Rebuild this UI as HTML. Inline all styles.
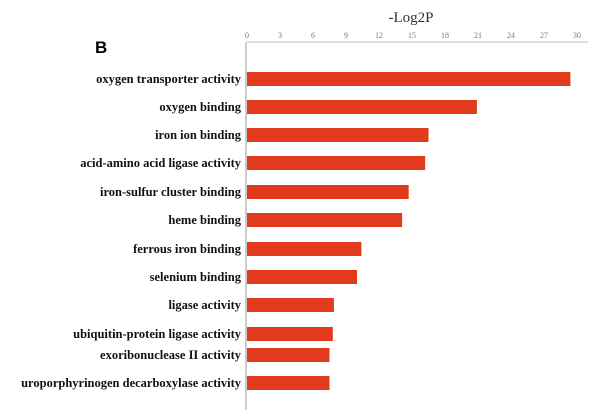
<!DOCTYPE html>
<html><head><meta charset="utf-8"><style>
body{margin:0;background:#fff;width:607px;height:420px;overflow:hidden}
svg{display:block}
</style></head><body>
<svg id="chart" width="607" height="420">
<text x="95" y="53" font-family="Liberation Sans, sans-serif" font-weight="bold" font-size="17">B</text>
<text x="411" y="22" text-anchor="middle" font-family="Liberation Serif, serif" font-size="15" fill="#333">-Log2P</text>
<g id="axis"></g>
<g id="bars"></g>
</svg>
<script>
const categories=["oxygen transporter activity","oxygen binding","iron ion binding","acid-amino acid ligase activity","iron-sulfur cluster binding","heme binding","ferrous iron binding","selenium binding","ligase activity","ubiquitin-protein ligase activity","exoribonuclease II activity","uroporphyrinogen decarboxylase activity"];
const values=[29.4,20.9,16.5,16.2,14.7,14.1,10.4,10.0,7.9,7.8,7.5,7.5];
const rowCenters=[79,107,135,163,192,220,249,277,305,334,355,383];
const ticks=[0,3,6,9,12,15,18,21,24,27,30];
const NS="http://www.w3.org/2000/svg";
const x=v=>247+v*11;
function mk(tag,attrs,parent,text){const e=document.createElementNS(NS,tag);for(const k in attrs)e.setAttribute(k,attrs[k]);if(text!==undefined)e.textContent=text;parent.appendChild(e);return e;}
const ax=document.getElementById('axis'),bg=document.getElementById('bars');
let l=mk('line',{x1:247,y1:42,x2:588,y2:42,stroke:'#bbb','stroke-width':1},ax);


let v=mk('line',{x1:246,y1:42,x2:246,y2:410,stroke:'#aaa','stroke-width':1.2},ax);


ticks.forEach(t=>{
 const tx=mk('text',{x:x(t),y:38,'text-anchor':'middle','font-family':'Liberation Serif, serif','font-size':8,fill:'#777'},ax,String(t));
 
 
});
categories.forEach((c,i)=>{
 const cy=rowCenters[i];
 const r=mk('rect',{x:x(0),y:cy-7,width:x(values[i])-x(0),height:14,fill:'#e23a1c'},bg);
 
 
 const t=mk('text',{x:241,y:cy+4,'text-anchor':'end','font-family':'Liberation Serif, serif','font-weight':'bold','font-size':12.5,fill:'#111'},bg,c);
 
 
});
</script>
</body></html>
